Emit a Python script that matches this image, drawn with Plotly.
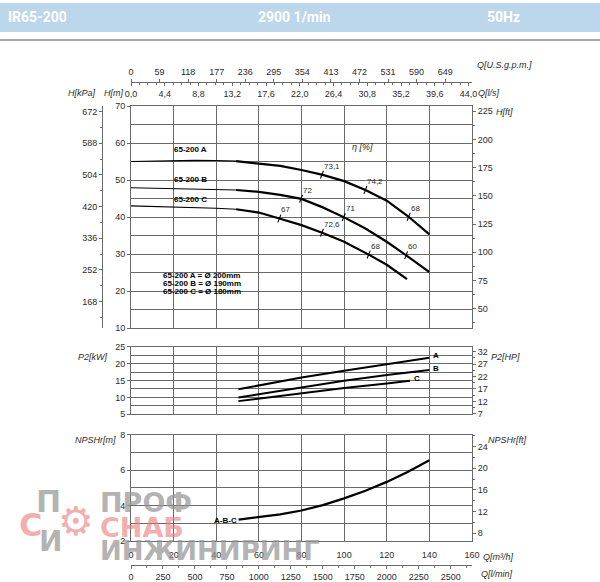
import numpy as np
import plotly.graph_objects as go

W, H = 600, 582

# ---------------- data ----------------
# Head curves H[m] vs Q[m3/h]
q_a = [0, 10, 20, 30, 40, 49.3, 60, 70, 80, 90, 100, 110, 120, 130, 140]
h_a = [55.0, 55.15, 55.25, 55.3, 55.25, 55.1, 54.5, 53.8, 52.7, 51.4, 49.7, 47.3, 44.4, 40.2, 35.3]
q_b = [0, 20, 40, 49.3, 60, 70, 80, 90, 100, 110, 120, 129, 140]
h_b = [47.9, 47.7, 47.45, 47.3, 46.8, 46.0, 44.9, 42.6, 39.9, 36.9, 33.3, 29.7, 25.1]
q_c = [0, 20, 40, 49.3, 60, 69.6, 80, 90, 100, 112, 120, 129.5]
h_c = [43.0, 42.75, 42.35, 42.1, 41.2, 39.6, 37.8, 35.7, 33.3, 29.7, 27.1, 23.2]
q_thin_end = 49.3

curve_names = ["65-200 A", "65-200 B", "65-200 C"]
diam_labels = ["65-200 A = Ø 200mm", "65-200 B = Ø 190mm", "65-200 C = Ø 180mm"]

# Efficiency marks
eff_q_a = [89.6, 110, 130.3]
eff_l_a = ["73,1", "74,2", "68"]
eff_q_b = [79.8, 99.8, 129.1]
eff_l_b = ["72", "71", "60"]
eff_q_c = [69.6, 89.6, 111.5]
eff_l_c = ["67", "72,6", "68"]

# Power P2[kW]
q_pa = [50.4, 80, 100, 120, 140]
p_a = [12.4, 15.9, 17.9, 19.9, 21.75]
q_pb = [50.4, 80, 100, 120, 140]
p_b = [10.0, 12.95, 14.9, 16.6, 18.1]
q_pc = [50.4, 80, 100, 120, 130.9]
p_c = [8.9, 11.25, 12.8, 14.1, 14.9]
power_names = ["A", "B", "C"]

# NPSHr[m]
q_n = [50.5, 60, 70, 80, 90, 100, 110, 120, 130, 140]
npsh = [3.2, 3.33, 3.5, 3.72, 4.02, 4.4, 4.83, 5.33, 5.9, 6.55]

# secondary scale ticks
ls_ticks = [0, 4.4, 8.8, 13.2, 17.6, 22.0, 26.4, 30.8, 35.2, 39.6, 44.0]
ls_text = ["0,0", "4,4", "8,8", "13,2", "17,6", "22,0", "26,4", "30,8", "35,2", "39,6", "44,0"]
gpm_ticks = [0, 59, 118, 177, 236, 295, 354, 413, 472, 531, 590, 649]

# unit conversions
LS_PER_M3H = 1 / 3.6
GPM_PER_M3H = 4.40287
LMIN_PER_M3H = 1000 / 60
KPA_PER_M = 9.80665
FT_PER_M = 3.28084
HP_PER_KW = 1.36

# ---------------- helpers ----------------
def X(px):
    return px / W

def Y(py):
    return 1 - py / H

GRID = "#6a6a6a"
TXT = "#2b2b2b"
FONT = "Liberation Sans, Arial, sans-serif"

fig = go.Figure()

def add_line(x, y, width, xa="x", ya="y"):
    fig.add_trace(go.Scatter(x=x, y=y, mode="lines", xaxis=xa, yaxis=ya,
                             line=dict(color="black", width=width),
                             hoverinfo="skip", showlegend=False))

# head curves: thin (non-recommended) part + thick part
for q, h in [(q_a, h_a), (q_b, h_b), (q_c, h_c)]:
    q = np.array(q); h = np.array(h)
    m1 = q <= q_thin_end
    m2 = q >= q_thin_end
    add_line(q[m1], h[m1], 1.1)
    add_line(q[m2], h[m2], 2.2)

# efficiency marks
ann = []
for q, h, eq, el in [(q_a, h_a, eff_q_a, eff_l_a), (q_b, h_b, eff_q_b, eff_l_b), (q_c, h_c, eff_q_c, eff_l_c)]:
    eh = np.interp(eq, q, h)
    xs, ys = [], []
    for qq, hh, lab in zip(eq, eh, el):
        xs += [qq - 0.7, qq + 0.7, None]
        ys += [hh - 1.05, hh + 1.05, None]
        ann.append(dict(x=qq, y=hh, xref="x", yref="y", text=lab, showarrow=False,
                        xanchor="left", yanchor="bottom", xshift=0, yshift=2,
                        font=dict(size=8, color=TXT, family=FONT)))
    add_line(xs, ys, 1.1)

# power curves
for q, p, nm in [(q_pa, p_a, "A"), (q_pb, p_b, "B"), (q_pc, p_c, "C")]:
    add_line(q, p, 2.0, "x4", "y4")
    ann.append(dict(x=q[-1], y=p[-1], xref="x4", yref="y4", text="<b>%s</b>" % nm,
                    showarrow=False, xanchor="left", yanchor="middle", xshift=2, yshift=2,
                    font=dict(size=8, color="black", family=FONT)))

# NPSH curve
add_line(q_n, npsh, 2.2, "x5", "y6")
ann.append(dict(x=q_n[0], y=npsh[0], xref="x5", yref="y6", text="<b>A-B-C</b>",
                showarrow=False, xanchor="right", yanchor="middle", xshift=0, yshift=-1,
                font=dict(size=8, color="black", family=FONT)))

# dummy traces so secondary axes render
for xa, ya in [("x", "y2"), ("x", "y3"), ("x2", "y"), ("x3", "y"), ("x4", "y5"), ("x5", "y7"), ("x6", "y6")]:
    fig.add_trace(go.Scatter(x=[None], y=[None], xaxis=xa, yaxis=ya, mode="lines",
                             showlegend=False, hoverinfo="skip"))

tickfont = dict(size=9, color=TXT, family=FONT)
dom_x = [X(131), X(472)]

def main_x(anchor, labels=False):
    return dict(domain=dom_x, anchor=anchor, range=[0, 160], tick0=0, dtick=20,
                showgrid=True, gridcolor=GRID, gridwidth=1, showline=True, linecolor=GRID,
                linewidth=1, mirror=True, zeroline=False, ticks="", showticklabels=labels,
                tickfont=tickfont, automargin=False)

def main_y(anchor, dom, rng, dtick, minor_dtick):
    return dict(domain=dom, anchor=anchor, range=rng, tick0=0, dtick=dtick,
                showgrid=True, gridcolor=GRID, gridwidth=1, showline=True, linecolor=GRID,
                linewidth=1, mirror=True, zeroline=False, ticks="outside", ticklen=3,
                tickcolor=GRID, tickfont=tickfont, automargin=False,
                minor=dict(dtick=minor_dtick, tick0=0, showgrid=True, gridcolor=GRID,
                           gridwidth=1, ticks=""))

def sec_y(overlay, rng, tick0, dtick, minor, side, anchor="free", position=None, line=False):
    d = dict(overlaying=overlay, range=rng, tick0=tick0, dtick=dtick, side=side,
             showgrid=False, zeroline=False, showline=line, linecolor=GRID, linewidth=1,
             ticks="outside", ticklen=3, tickcolor=GRID, tickfont=tickfont, automargin=False,
             minor=dict(dtick=minor, tick0=tick0, ticks="outside", ticklen=2, tickcolor=GRID))
    d["anchor"] = anchor
    if position is not None:
        d["position"] = position
    return d

q_max = 160
layout = dict(
    template="none",
    width=W, height=H, margin=dict(l=0, r=0, t=0, b=0, autoexpand=False),
    paper_bgcolor="white", plot_bgcolor="white", showlegend=False,
    font=dict(family=FONT, color=TXT),
    xaxis=main_x("y"),
    xaxis4=main_x("y4"),
    xaxis5=dict(main_x("y6", labels=True), ticklabelstandoff=5),
    yaxis=main_y("x", [Y(328), Y(106)], [10, 70], 10, 5),
    yaxis4=main_y("x4", [Y(414.3), Y(346.7)], [5, 25], 5, 2.5),
    yaxis6=main_y("x5", [Y(541), Y(434.5)], [2, 8], 2, 1),
    yaxis2=sec_y("y", [10 * KPA_PER_M, 70 * KPA_PER_M], 0, 84, 42, "left", "free", X(102), line=True),
    yaxis3=sec_y("y", [10 * FT_PER_M, 70 * FT_PER_M], 0, 25, 12.5, "right", "x"),
    yaxis5=sec_y("y4", [5 * HP_PER_KW, 25 * HP_PER_KW], 2, 5, 2.5, "right", "x4"),
    yaxis7=sec_y("y6", [2 * FT_PER_M, 8 * FT_PER_M], 0, 4, 2, "right", "x5"),
    xaxis2=dict(overlaying="x", anchor="free", position=Y(81.7), side="bottom",
                range=[0, q_max * LS_PER_M3H], tickmode="array", tickvals=ls_ticks, ticktext=ls_text,
                showgrid=False, zeroline=False, showline=True, linecolor=GRID, automargin=False,
                ticks="outside", ticklen=3, tickcolor=GRID, tickfont=tickfont,
                minor=dict(dtick=1.1, tick0=0, ticks="outside", ticklen=2, tickcolor=GRID)),
    xaxis3=dict(overlaying="x", anchor="free", position=Y(81.7), side="top",
                range=[0, q_max * GPM_PER_M3H], tickmode="array", tickvals=gpm_ticks,
                showgrid=False, zeroline=False, showline=False, automargin=False,
                ticks="outside", ticklen=3, tickcolor=GRID, tickfont=tickfont),
    xaxis6=dict(overlaying="x5", anchor="free", position=Y(565), side="bottom",
                range=[0, q_max * LMIN_PER_M3H], tick0=0, dtick=250, automargin=False,
                showgrid=False, zeroline=False, showline=True, linecolor=GRID,
                ticks="outside", ticklen=3, tickcolor=GRID, tickfont=tickfont,
                minor=dict(dtick=125, tick0=0, ticks="outside", ticklen=2, tickcolor=GRID)),
)

def pa(text, px, py, size=9, xanchor="left", color=TXT, italic=False, bold=False, family=FONT):
    if italic:
        text = "<i>%s</i>" % text
    if bold:
        text = "<b>%s</b>" % text
    return dict(x=X(px), y=Y(py), xref="paper", yref="paper", text=text, showarrow=False,
                xanchor=xanchor, yanchor="middle", font=dict(size=size, color=color, family=family))

# axis titles
ann += [
    pa("H[kPa]", 98, 93, xanchor="right", italic=True),
    pa("H[m]", 102, 93, italic=True),
    pa("Q[U.S.g.p.m.]", 475, 65, italic=True),
    pa("Q[l/s]", 476, 93.5, italic=True),
    pa("H[ft]", 494, 112, italic=True),
    pa("η [%]", 362.7, 147, xanchor="center", italic=True),
    pa("P2[kW]", 110, 356.7, xanchor="right", italic=True),
    pa("P2[HP]", 489, 357, italic=True),
    pa("NPSHr[m]", 118, 440, xanchor="right", italic=True),
    pa("NPSHr[ft]", 486, 440, italic=True),
    pa("Q[m³/h]", 481, 557, italic=True),
    pa("Q[l/min]", 479, 574, italic=True),
]
# curve labels
for nm, py in zip(curve_names, [150, 179, 199]):
    ann.append(pa(nm, 190, py, size=8, xanchor="center", bold=True, color="black"))
for nm, py in zip(diam_labels, [275, 283.3, 291]):
    ann.append(pa(nm, 201.5, py, size=8, xanchor="center", bold=True, color="black"))

# header
HF = "Roboto, DejaVu Sans, sans-serif"
ann += [
    pa("IR65-200", 6, 17, size=14, bold=True, color="white", family=HF),
    pa("2900 1/min", 294, 17, size=14, bold=True, color="white", xanchor="center", family=HF),
    pa("50Hz", 503, 17, size=14, bold=True, color="white", xanchor="center", family=HF),
]

# watermark
WF = "DejaVu Sans, sans-serif"
GRAY_W = "rgba(150,150,150,0.72)"
RED_W = "rgba(238,120,120,0.6)"
ann += [
    pa("<b>ПРОФ</b>", 98, 502, size=27, color=GRAY_W, family=WF),
    pa("<b>СНАБ</b>", 98, 527, size=27, color=RED_W, family=WF),
    pa("<b>ИНЖИНИРИНГ</b>", 98, 551, size=26, color=GRAY_W, family=WF),
    pa("<b>П</b>", 48, 501, size=30, color=GRAY_W, xanchor="center", family=WF),
    pa("<b>С</b>", 30, 525, size=32, color=RED_W, xanchor="center", family=WF),
    pa("<b>И</b>", 50, 541, size=28, color=GRAY_W, xanchor="center", family=WF),
    pa("⚙", 76, 521, size=40, color=RED_W, xanchor="center", family=WF),
]

layout["annotations"] = ann
layout["shapes"] = [
    dict(type="rect", xref="paper", yref="paper", x0=0, x1=1, y0=Y(32), y1=Y(3),
         fillcolor="#bcd6eb", line=dict(width=0), layer="below"),
    dict(type="line", xref="paper", yref="paper", x0=0, x1=1, y0=Y(40), y1=Y(40),
         line=dict(color="#a8a8a8", width=2)),
]

fig.update_layout(**layout)
fig.write_html("out.html", config={"displayModeBar": False, "staticPlot": True},
               post_script="document.body.style.margin='0';document.body.style.overflow='hidden';")
